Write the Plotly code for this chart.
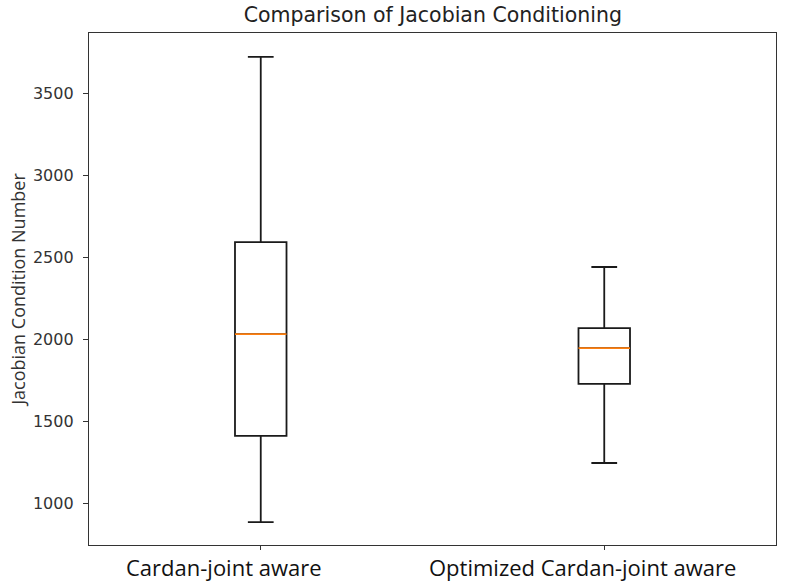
import plotly.graph_objects as go

categories = ["Cardan-joint aware", "Optimized Cardan-joint aware"]
positions = [1, 2]
lower_whisker = [884, 1244]
q1_vals = [1409, 1726]
median_vals = [2030, 1945]
q3_vals = [2591, 2067]
upper_whisker = [3720, 2439]
y_ticks = [1000, 1500, 2000, 2500, 3000, 3500]
label_shift = [-37, -22]

box_width = 0.15
tick_font = "DejaVu Sans"
label_font = "Open Sans"

fig = go.Figure()
for i in range(len(categories)):
    fig.add_trace(go.Box(
        x=[positions[i]],
        q1=[q1_vals[i]], median=[median_vals[i]], q3=[q3_vals[i]],
        lowerfence=[lower_whisker[i]], upperfence=[upper_whisker[i]],
        width=box_width, whiskerwidth=0.5,
        fillcolor="rgba(0,0,0,0)",
        line=dict(color="#1a1a1a", width=1.8),
        boxpoints=False, hoverinfo="skip", showlegend=False,
    ))
    fig.add_trace(go.Scatter(
        x=[positions[i] - box_width / 2, positions[i] + box_width / 2],
        y=[median_vals[i], median_vals[i]],
        mode="lines", line=dict(color="#ff7f0e", width=1.8),
        hoverinfo="skip", showlegend=False,
    ))
    fig.add_annotation(
        x=positions[i], xref="x", y=-0.043, yref="paper", yanchor="middle",
        xshift=label_shift[i], text=categories[i], showarrow=False,
        font=dict(family=label_font, size=22, color="#111"),
    )

fig.update_layout(
    width=792, height=586,
    margin=dict(l=89, r=16, t=33, b=41),
    paper_bgcolor="white", plot_bgcolor="white",
    title=dict(text="Comparison of Jacobian Conditioning", x=0.5465, xanchor="center",
               y=0.975, yanchor="middle", font=dict(family=tick_font, size=20.5, color="#222")),
    font=dict(family=tick_font, color="#222"),
)
fig.update_xaxes(
    range=[0.5, 2.5], tickmode="array", tickvals=positions, showticklabels=False,
    showgrid=False, zeroline=False, showline=True, linecolor="#333", linewidth=1.4, mirror=True,
    ticks="outside", ticklen=4, tickcolor="#333",
)
fig.update_yaxes(
    range=[744, 3866], tickmode="array", tickvals=y_ticks,
    showgrid=False, zeroline=False, showline=True, linecolor="#333", linewidth=1.4, mirror=True,
    ticks="outside", ticklen=5, tickcolor="#333", ticklabelstandoff=6,
    tickfont=dict(family=tick_font, size=16, color="#333"),
    title=dict(text="Jacobian Condition Number", font=dict(family=label_font, size=18, color="#333"), standoff=2),
)

fig.write_html("out.html")
